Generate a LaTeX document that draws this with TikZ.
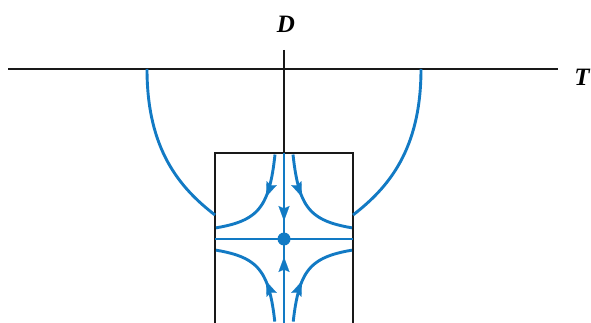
\documentclass[tikz,border=0pt]{standalone}
\usepackage{fontspec}
\setmainfont{Liberation Serif}
\usetikzlibrary{arrows.meta}
\definecolor{flow}{RGB}{18,122,196}
\begin{document}
\begin{tikzpicture}[x=1pt,y=-1pt,
  axis/.style={line width=2.6pt,black!90},
  traj/.style={line width=2.9pt,flow},
  tip/.style={line width=0.1pt,flow,-{Stealth[length=15pt,width=11pt,inset=2.5pt]}},
  lbl/.style={font=\fontsize{25}{29}\selectfont\bfseries\itshape,inner sep=0pt}]
\useasboundingbox (0,0) rectangle (591,323);
% axes
\coordinate (Tl) at (8,69);
\coordinate (Tr) at (558,69);
\coordinate (Dt) at (284,50);
\coordinate (Db) at (284,153);
\draw[axis] (Tl) -- (Tr);
\draw[axis] (Dt) -- (Db);
\node[lbl] (D) at (286,24) {D};
\node[lbl] (T) at (582,77) {T};
% box
\coordinate (B1) at (215,324);
\coordinate (B2) at (215,153);
\coordinate (B3) at (353,153);
\coordinate (B4) at (353,324);
\draw[axis] (B1) -- (B2) -- (B3) -- (B4);
% outer arcs
\draw[traj] (147,69) .. controls (147,150) and (180,188) .. (215,215);
\draw[traj] (421,69) .. controls (421,150) and (388,188) .. (353,215);
% saddle
\coordinate (S) at (284,239);
\coordinate (Vb) at (284,324);
\draw[traj] (215,239) -- (353,239);
\draw[traj] (Db) -- (S);
\draw[traj] (Vb) -- (S);
% hyperbolas
\draw[traj] plot[domain=9:68,smooth,samples=50] ({284-\x},{239-760/\x});
\draw[traj] plot[domain=9:68,smooth,samples=50] ({284+\x},{239-760/\x});
\draw[traj] plot[domain=9.2:68,smooth,samples=50] ({284-\x},{239+760/\x});
\draw[traj] plot[domain=9.2:68,smooth,samples=50] ({284+\x},{239+760/\x});
% arrowheads
\coordinate (a1s) at (284,200); \coordinate (a1e) at (284,221);
\coordinate (a2s) at (284,278); \coordinate (a2e) at (284,257);
\coordinate (a3s) at (269.5,188.4); \coordinate (a3e) at (266,197);
\coordinate (a4s) at (298.5,188.4); \coordinate (a4e) at (302,197);
\coordinate (a5s) at (269.5,289.6); \coordinate (a5e) at (266,281);
\coordinate (a6s) at (298.5,289.6); \coordinate (a6e) at (302,281);
\foreach \i in {1,...,6} \draw[tip] (a\i s) -- (a\i e);
\fill[flow] (S) circle (6.5pt);
\end{tikzpicture}
\end{document}
